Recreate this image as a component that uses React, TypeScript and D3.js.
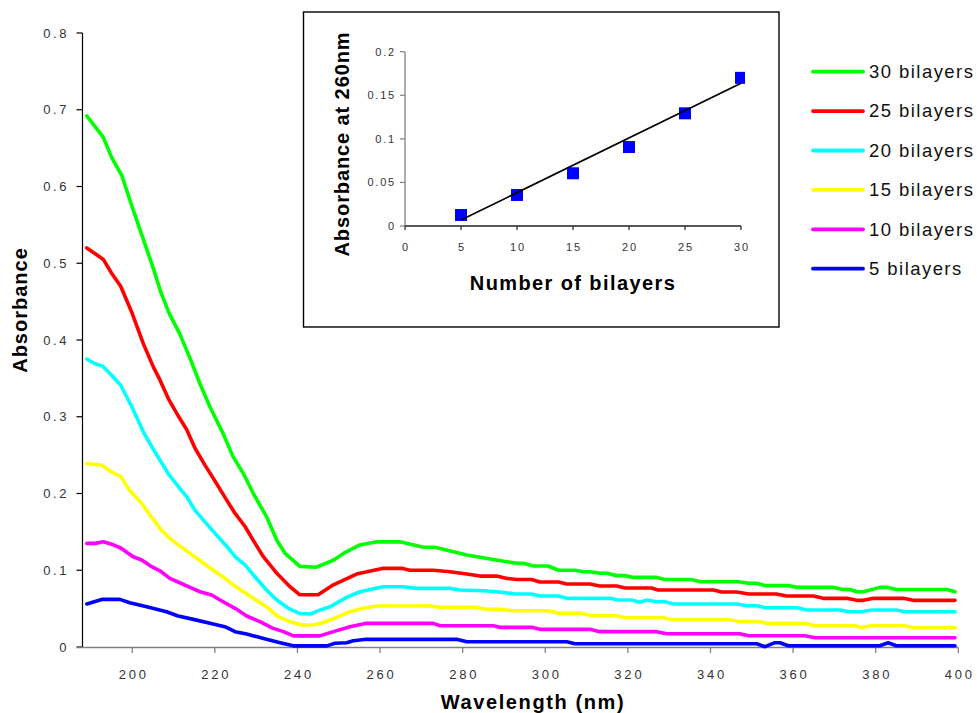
import React from "react";
import * as d3 from "d3";

type Pt = [number, number];

// ---- main chart data: [wavelength nm, absorbance] ----
const series30: Pt[] = [[189,0.692],[193,0.664],[195,0.638],[197.5,0.614],[200,0.573],[202.5,0.534],[205,0.495],[207,0.461],[209,0.434],[211.5,0.408],[214,0.376],[216.4,0.343],[218.8,0.313],[222,0.278],[224.4,0.248],[226.9,0.226],[229.3,0.2],[232.5,0.17],[235,0.139],[237,0.122],[240.6,0.105],[244.6,0.104],[248.7,0.113],[251.5,0.123],[255.1,0.133],[259.2,0.137],[264.8,0.137],[270.5,0.13],[273.3,0.13],[281,0.12],[287.4,0.114],[293.1,0.109],[294.7,0.109],[297.1,0.1055],[300.7,0.1055],[303.2,0.1],[307.2,0.1],[309.2,0.098],[310.8,0.098],[313.2,0.096],[314.9,0.096],[317.3,0.093],[319.3,0.093],[321.3,0.0907],[327,0.0907],[329,0.088],[335.4,0.088],[337.5,0.085],[346.7,0.085],[349.2,0.083],[351.2,0.083],[353.2,0.08],[358.8,0.08],[360.9,0.0777],[369.7,0.0777],[372.1,0.075],[373.8,0.075],[375.4,0.072],[377,0.072],[381,0.0777],[382.7,0.0777],[385,0.075],[397.2,0.075],[399.2,0.072]];
const series25: Pt[] = [[189,0.52],[193,0.505],[195,0.487],[197.2,0.47],[200,0.4345],[202.7,0.395],[205.1,0.365],[206.7,0.348],[208.7,0.324],[210.8,0.304],[213.2,0.283],[215.2,0.259],[217.6,0.237],[220.4,0.213],[222.9,0.191],[224.9,0.174],[227.3,0.157],[229.3,0.139],[231.7,0.118],[235,0.096],[238.2,0.0785],[240.6,0.068],[245,0.068],[248.7,0.081],[254.3,0.095],[260.8,0.1025],[265.2,0.1025],[267.2,0.1],[272.9,0.1],[276.9,0.098],[281,0.095],[284.2,0.0924],[288.2,0.0924],[290.7,0.0894],[293.1,0.088],[296.7,0.088],[298.7,0.0846],[303.2,0.0846],[305.2,0.082],[310.8,0.082],[313.2,0.0794],[317.3,0.0794],[319.3,0.0768],[325.7,0.0768],[327.3,0.0742],[340.7,0.0742],[342.7,0.0716],[346.4,0.0716],[349.2,0.069],[356,0.069],[358.4,0.0664],[364.9,0.0664],[367.3,0.0634],[373,0.0634],[375.4,0.0608],[377,0.0608],[379.5,0.0634],[386.7,0.0634],[389.1,0.0608],[399.2,0.0608]];
const series20: Pt[] = [[189,0.375],[191,0.369],[192.8,0.366],[195,0.354],[197.2,0.341],[199.9,0.313],[202.7,0.28],[205.5,0.254],[208.7,0.226],[211.5,0.2066],[213.2,0.1957],[215.2,0.178],[217.6,0.163],[220.4,0.146],[222.9,0.131],[224.9,0.1176],[227.3,0.107],[229.7,0.0915],[232.5,0.0742],[235,0.0612],[237.8,0.0504],[240.6,0.0435],[243.2,0.043],[245.4,0.048],[247.9,0.0525],[251.9,0.0647],[255.1,0.072],[260.8,0.0785],[265.6,0.0785],[268.9,0.0764],[276.9,0.0764],[279.4,0.0742],[285,0.0733],[288.2,0.072],[291.5,0.07],[292.7,0.069],[296.7,0.069],[298.7,0.0664],[303.2,0.0664],[305.2,0.0634],[315.7,0.0634],[317.7,0.0612],[320.9,0.0612],[322.9,0.0582],[324.5,0.0612],[327,0.059],[329,0.059],[331,0.056],[346.4,0.056],[348.8,0.0538],[351.2,0.0538],[353.2,0.0512],[360.9,0.0512],[363.3,0.0482],[371.4,0.0482],[373.4,0.046],[376.6,0.046],[379,0.0482],[385,0.0482],[387,0.046],[399.2,0.046]];
const series15: Pt[] = [[189,0.239],[192.6,0.237],[195,0.228],[197.2,0.222],[199.4,0.204],[202.3,0.187],[204.3,0.172],[206.7,0.1545],[209.1,0.1415],[211.5,0.1315],[214,0.122],[216.8,0.111],[219.6,0.1],[222.5,0.0894],[224.5,0.0807],[226.9,0.072],[229.3,0.0634],[232.5,0.0525],[235.3,0.0395],[238.2,0.033],[241,0.0286],[243.9,0.0286],[246.2,0.0316],[249.5,0.0387],[252.7,0.046],[255.9,0.0504],[259.2,0.0534],[272.1,0.0534],[274.5,0.0517],[283.4,0.0517],[285.8,0.049],[289,0.049],[292.3,0.0473],[300.7,0.0473],[303.2,0.0439],[308.8,0.0439],[311.2,0.0408],[317.3,0.0408],[319.3,0.0382],[328.6,0.0382],[330.6,0.0356],[344.7,0.0356],[347.1,0.033],[352,0.033],[354,0.0304],[363.3,0.0304],[365.3,0.0277],[375,0.0277],[376.6,0.0251],[378.6,0.0277],[387,0.0277],[389.1,0.0251],[399.2,0.0251]];
const series10: Pt[] = [[189,0.135],[191,0.135],[193,0.137],[195,0.134],[197.2,0.129],[200.2,0.1176],[202.3,0.1133],[204.7,0.1046],[206.7,0.0993],[209.1,0.0894],[211.5,0.0837],[214,0.0777],[216.4,0.072],[219.2,0.0677],[222,0.059],[224.9,0.0504],[227.7,0.0404],[230.9,0.033],[234.1,0.0243],[236.6,0.02],[239,0.0145],[245.4,0.0145],[248.7,0.02],[252.7,0.0264],[256.7,0.0308],[272.9,0.0308],[274.5,0.0277],[287.4,0.0277],[289,0.0256],[296.7,0.0256],[298.7,0.023],[310.8,0.023],[313.2,0.02],[327,0.02],[329.4,0.0173],[347.1,0.0173],[349.2,0.0147],[362.9,0.0147],[365.3,0.0121],[399.2,0.0121]];
const series5: Pt[] = [[189,0.056],[192.6,0.062],[197,0.062],[199.4,0.0577],[203.5,0.0525],[208.3,0.046],[211.1,0.0404],[214.8,0.036],[218.8,0.0308],[222.4,0.0264],[224.9,0.02],[227.7,0.0169],[232.5,0.01],[235.8,0.0056],[239,0.0015],[247.1,0.0015],[249.1,0.0048],[251.9,0.0056],[253.5,0.0082],[256.7,0.01],[278.5,0.01],[281,0.0069],[305.2,0.0069],[307.2,0.0043],[351.2,0.0043],[353.2,0.0004],[355.6,0.0056],[356.8,0.0056],[358.8,0.0017],[381,0.0017],[383,0.0056],[385,0.0017],[399.2,0.0017]];

const seriesNames = ["30 bilayers", "25 bilayers", "20 bilayers", "15 bilayers", "10 bilayers", "5 bilayers"];
const seriesColors = ["#00FF00", "#FF0000", "#00FFFF", "#FFFF00", "#FF00FF", "#0000FF"];
const seriesData = [series30, series25, series20, series15, series10, series5];

const xTicks = [200, 220, 240, 260, 280, 300, 320, 340, 360, 380, 400];
const yTicks = [0, 0.1, 0.2, 0.3, 0.4, 0.5, 0.6, 0.7, 0.8];
const yTickLabels = ["0", "0.1", "0.2", "0.3", "0.4", "0.5", "0.6", "0.7", "0.8"];

// ---- inset data ----
const insetBilayers = [5, 10, 15, 20, 25, 30];
const insetAbs260 = [0.0126, 0.0356, 0.0605, 0.0906, 0.1293, 0.170];
// trend line end values as drawn in the inset
const trendEnds: Pt[] = [[5, 0.0069], [30, 0.1637]];
const insetXTicks = [0, 5, 10, 15, 20, 25, 30];
const insetYTicks = [0, 0.05, 0.1, 0.15, 0.2];
const insetYTickLabels = ["0", "0.05", "0.1", "0.15", "0.2"];

const FONT = "'Liberation Sans', Arial, Helvetica, sans-serif";

export default function App() {
  const x = d3.scaleLinear().domain([188, 400]).range([82.7, 958.3]);
  const y = d3.scaleLinear().domain([0, 0.8]).range([647, 33]);
  const line = d3.line<Pt>().x((d) => x(d[0])).y((d) => y(d[1]));

  const ix = d3.scaleLinear().domain([0, 30]).range([405, 741]);
  const iy = d3.scaleLinear().domain([0, 0.2]).range([226, 51.7]);
  const trendLine = d3.line<Pt>().x((d) => ix(d[0])).y((d) => iy(d[1]));

  const legendX = 813;
  const legendY0 = 71.7;
  const legendStep = 39.4;

  return (
    <div style={{ position: "absolute", left: 0, top: 0 }}>
      <svg width={977} height={713} style={{ display: "block", background: "#fff" }} fontFamily={FONT}>
        <defs>
          <clipPath id="insetClip">
            <rect x={ix(0)} y={iy(0.2) - 10} width={ix(30) - ix(0) + 4} height={iy(0) - iy(0.2) + 20} />
          </clipPath>
        </defs>
        {/* main axes */}
        <line x1={82.5} x2={82.5} y1={y(0.8)} y2={y(0)} stroke="#000" strokeWidth={1.2} />
        {yTicks.map((t, i) => (
          <g key={"yt" + i}>
            <line x1={76.5} x2={82.5} y1={y(t)} y2={y(t)} stroke="#000" strokeWidth={1.2} />
            <text x={69} y={y(t) + 4.5} textAnchor="end" fontSize={13} letterSpacing={2.6} fill="#333">
              {yTickLabels[i]}
            </text>
          </g>
        ))}
        <line x1={76.5} x2={x(400)} y1={647.5} y2={647.5} stroke="#808080" strokeWidth={1.4} />
        {xTicks.map((t, i) => (
          <g key={"xt" + i}>
            <line x1={x(t)} x2={x(t)} y1={647.5} y2={653} stroke="#808080" strokeWidth={1.3} />
            <text x={x(t) + 1.5} y={679} textAnchor="middle" fontSize={13} letterSpacing={2.8} fill="#333">
              {String(t)}
            </text>
          </g>
        ))}
        <text x={533} y={709} textAnchor="middle" fontSize={20} fontWeight="bold" letterSpacing={1.6} fill="#000">
          Wavelength (nm)
        </text>
        <text transform={`translate(27,310) rotate(-90)`} textAnchor="middle" fontSize={20} fontWeight="bold" letterSpacing={1} fill="#000">
          Absorbance
        </text>

        {/* series lines */}
        {seriesData.map((s, i) => (
          <path key={"s" + i} d={line(s) || ""} fill="none" stroke={seriesColors[i]} strokeWidth={3.6} strokeLinejoin="round" strokeLinecap="round" />
        ))}

        {/* legend */}
        {seriesNames.map((name, i) => (
          <g key={"lg" + i}>
            <line x1={legendX} x2={legendX + 50} y1={legendY0 + i * legendStep} y2={legendY0 + i * legendStep} stroke={seriesColors[i]} strokeWidth={3.8} strokeLinecap="round" />
            <text x={legendX + 56} y={legendY0 + i * legendStep + 6.3} fontSize={18.5} letterSpacing={1.45} fill="#111">
              {name}
            </text>
          </g>
        ))}

        {/* inset */}
        <rect x={303.5} y={12} width={475.5} height={315} fill="#fff" stroke="#000" strokeWidth={1.4} />
        <line x1={405} x2={405} y1={iy(0.2)} y2={iy(0)} stroke="#808080" strokeWidth={1.3} />
        {insetYTicks.map((t, i) => (
          <g key={"iyt" + i}>
            <line x1={400} x2={405} y1={iy(t)} y2={iy(t)} stroke="#808080" strokeWidth={1.2} />
            <text x={396} y={iy(t) + 4} textAnchor="end" fontSize={11} letterSpacing={1.8} fill="#333">
              {insetYTickLabels[i]}
            </text>
          </g>
        ))}
        <line x1={405} x2={741} y1={iy(0)} y2={iy(0)} stroke="#222" strokeWidth={1.3} />
        {insetXTicks.map((t, i) => (
          <g key={"ixt" + i}>
            <line x1={ix(t)} x2={ix(t)} y1={iy(0)} y2={iy(0) + 4} stroke="#222" strokeWidth={1.2} />
            <text x={ix(t) + 1} y={251} textAnchor="middle" fontSize={11} letterSpacing={1.8} fill="#333">
              {String(t)}
            </text>
          </g>
        ))}
        <g clipPath="url(#insetClip)">
          {insetBilayers.map((b, i) => (
            <rect key={"m" + i} x={ix(b) - 6} y={iy(insetAbs260[i]) - 6} width={12} height={12} fill="#0000FF" />
          ))}
        </g>
        <path d={trendLine(trendEnds) || ""} fill="none" stroke="#000" strokeWidth={1.7} />
        <text x={573} y={290} textAnchor="middle" fontSize={20} fontWeight="bold" letterSpacing={1.4} fill="#000">
          Number of bilayers
        </text>
        <text transform={`translate(349,144) rotate(-90)`} textAnchor="middle" fontSize={20} fontWeight="bold" letterSpacing={0.9} fill="#000">
          Absorbance at 260nm
        </text>
      </svg>
    </div>
  );
}
